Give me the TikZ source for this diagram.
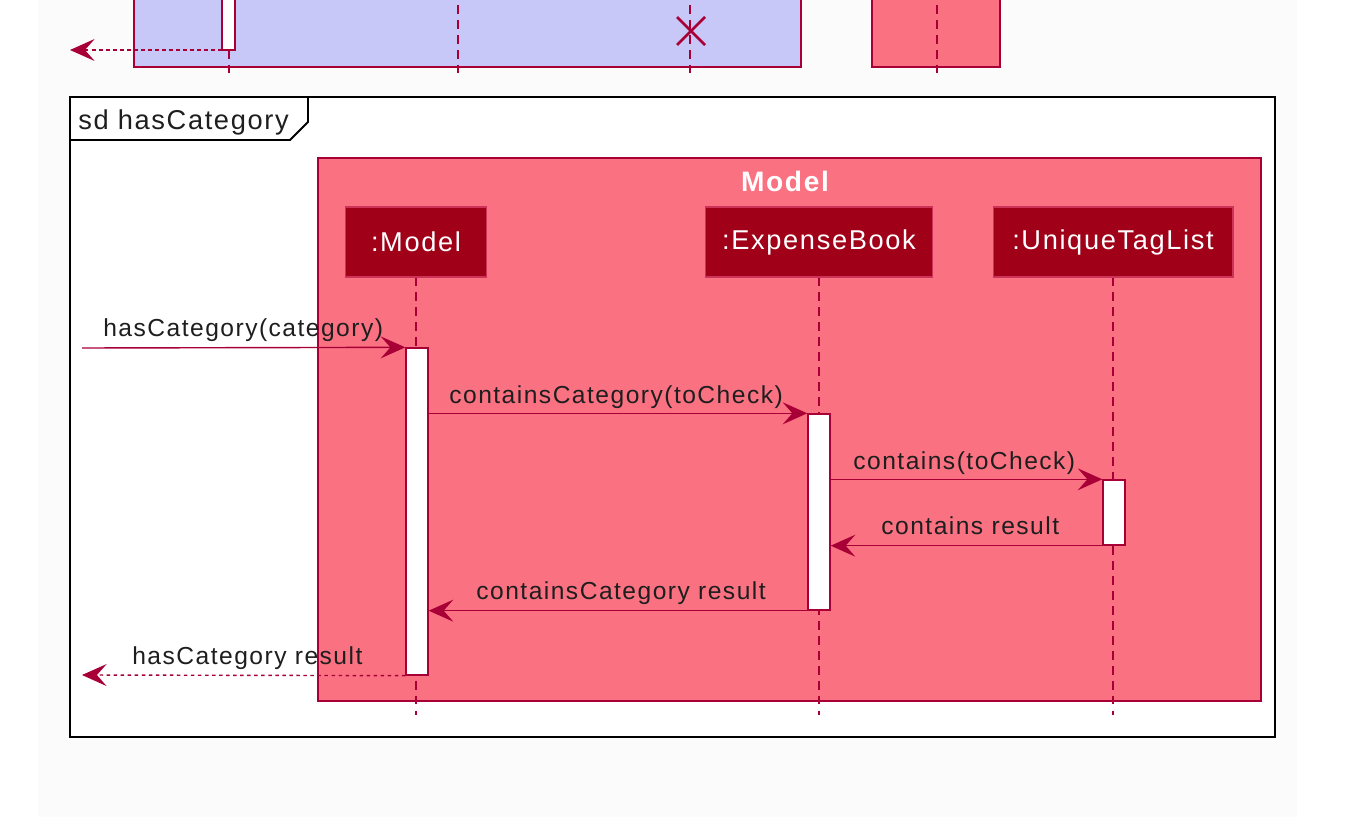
\documentclass[tikz,border=0pt]{standalone}
\usepackage{fontspec}
\setmainfont{Liberation Sans}
\newfontfamily\umlfont[LetterSpace=6]{Liberation Sans}
\usetikzlibrary{arrows.meta}

\definecolor{modelfill}{RGB}{250,114,130}
\definecolor{headfill}{RGB}{160,0,24}
\definecolor{linecol}{RGB}{168,0,54}
\definecolor{logicfill}{RGB}{200,200,248}
\definecolor{textcol}{RGB}{30,30,30}
\definecolor{pagegray}{RGB}{251,251,251}

\tikzset{
  lifeline/.style={draw=linecol, line width=0.8pt, dash pattern=on 5pt off 3.5pt},
  head/.style={draw=linecol!55!modelfill, fill=headfill, text=white, line width=0.6pt,
    minimum height=1.4cm, inner sep=0pt, font=\umlfont\fontsize{15.5}{18}\selectfont},
  actbar/.style={draw=linecol, fill=white, line width=0.8pt, minimum width=0.44cm, inner sep=0pt},
  msg/.style={draw=linecol, line width=0.8pt, -{Stealth[length=14pt, width=12.5pt, inset=5.5pt]}},
  ret/.style={msg, dash pattern=on 2pt off 2pt},
  msglabel/.style={anchor=base west, inner sep=0pt, text=textcol, font=\umlfont\fontsize{14}{16}\selectfont},
}

\begin{document}
\begin{tikzpicture}[x=0.02cm, y=-0.02cm]
\useasboundingbox (0,0) rectangle (1372,817);
\clip (0,0) rectangle (1372,817);
\fill[pagegray] (38,0) rectangle (1297,817);

% end of the previous diagram
\draw[linecol, line width=0.8pt, fill=logicfill] (134,-10) rectangle (801,67);
\draw[linecol, line width=0.8pt, fill=modelfill] (872,-10) rectangle (1000,67);
\foreach \x in {229,458,690,937} \draw[lifeline] (\x,-10)--(\x,76);
\draw[actbar] (222,-10) rectangle (235,50);
\coordinate (prevBar) at (222,50);
\coordinate (prevCaller) at (70,50);
\draw[ret] (prevBar) -- (prevCaller);
\draw[linecol, line width=1.5pt] (677,17)--(705,45);
\draw[linecol, line width=1.5pt] (677,45)--(705,17);

% frame
\draw[black, line width=1.1pt, fill=white] (70,97) rectangle (1275,737);
\draw[black, line width=1.1pt] (70,140) -- (290,140) -- (308,122) -- (308,97);
\node[anchor=base west, inner sep=0pt, text=textcol, font=\umlfont\fontsize{15.5}{18}\selectfont]
  (sdTitle) at (78,130) {sd hasCategory};

% Model box
\draw[linecol, line width=0.8pt, fill=modelfill] (318,158) rectangle (1261,701);
\node[text=white, font=\umlfont\bfseries\fontsize{16}{18}\selectfont] (boxTitle) at (785,181) {Model};

% lifelines
\coordinate (lifeEnd) at (0,715);
\node[head, minimum width=2.82cm] (hModel) at (416,242) {:Model};
\node[head, minimum width=4.54cm] (hBook) at (819,242) {:ExpenseBook};
\node[head, minimum width=4.80cm] (hTags) at (1113,242) {:UniqueTagList};
\foreach \h in {hModel,hBook,hTags} \draw[lifeline] (\h.south) -- (\h.south |- lifeEnd);

% activations
\node[actbar, minimum height=6.54cm] (actModel) at (417,511.5) {};
\node[actbar, minimum height=3.92cm] (actBook) at (819,512) {};
\node[actbar, minimum height=1.30cm] (actTags) at (1114,512.5) {};

% messages
\coordinate (caller) at (82,348);
\coordinate (callerRet) at (82,675);
\draw[msg] (caller) -- (actModel.north west);
\draw[msg] (actModel.east |- actBook.north) -- (actBook.north west);
\draw[msg] (actBook.east |- actTags.north) -- (actTags.north west);
\draw[msg] (actTags.south west) -- (actBook.east |- actTags.south);
\draw[msg] (actBook.south west) -- (actModel.east |- actBook.south);
\draw[ret] (actModel.south west) -- (callerRet);

\node[msglabel] (l1) at (103,337) {hasCategory(category)};
\node[msglabel] (l2) at (449,403) {containsCategory(toCheck)};
\node[msglabel] (l3) at (853,469) {contains(toCheck)};
\node[msglabel] (l4) at (881,534) {contains result};
\node[msglabel] (l5) at (476,599) {containsCategory result};
\node[msglabel] (l6) at (132,664) {hasCategory result};
\end{tikzpicture}
\end{document}
